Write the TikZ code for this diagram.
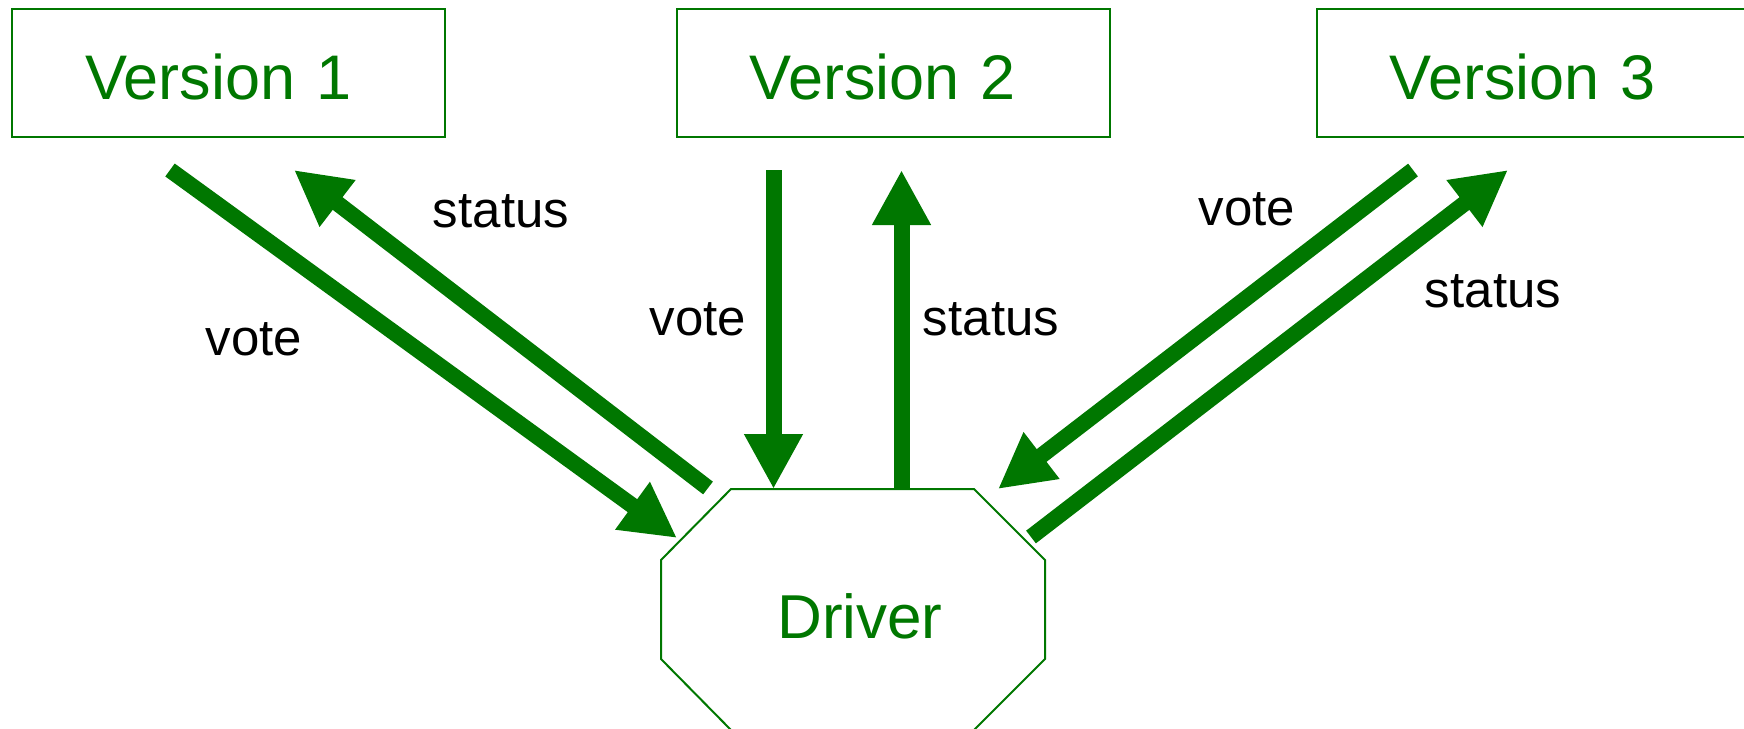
\documentclass[tikz,border=0pt]{standalone}
\usepackage{fontspec}
\setmainfont{Liberation Sans}
\usetikzlibrary{arrows.meta}
\definecolor{vgreen}{RGB}{0,119,0}
\begin{document}
\begin{tikzpicture}[x=1pt,y=-1pt,
  verbox/.style={draw=vgreen, line width=2pt, rectangle,
    minimum height=128pt, inner xsep=73pt, inner ysep=0pt,
    text width=287pt, align=left, text height=52pt, text depth=0pt,
    text=vgreen, font=\fontsize{63}{70}\selectfont},
  drvtext/.style={text=vgreen, font=\fontsize{62}{70}\selectfont, anchor=base, inner sep=0pt},
  lbl/.style={font=\fontsize{51}{60}\selectfont, anchor=base, inner sep=0pt},
  flow/.style={draw=vgreen, line width=16pt,
    -{Triangle[length=55pt,width=55pt]}}]
  \useasboundingbox (0,0) rectangle (1744,728);
  \clip (0,0) rectangle (1744,728);

  % the three versions
  \node[verbox] (v1) at (228.5,73) {Version 1};
  \node[verbox] (v2) at (893,73) {Version 2};
  \node[verbox] (v3) at (1533,73) {Version 3};

  % driver outline (stretched octagon)
  \draw[vgreen, line width=2pt]
    (731,489) -- (974,489) -- (1045,560) -- (1045,659) -- (974,730)
    -- (731,730) -- (661,659) -- (661,560) -- cycle;
  \node[drvtext] (drv) at (860,638) {Driver};

  % connector end points
  \coordinate (v1out) at (170,170);
  \coordinate (d1in)  at (677,538);
  \coordinate (d1out) at (708,488);
  \coordinate (v1in)  at (294,170);
  \coordinate (v2out) at (773.5,170);
  \coordinate (d2in)  at (773.5,489);
  \coordinate (d2out) at (901.5,489);
  \coordinate (v2in)  at (901.5,170);
  \coordinate (v3out) at (1413,170);
  \coordinate (d3in)  at (998,489);
  \coordinate (d3out) at (1031,537);
  \coordinate (v3in)  at (1508,170);

  % votes and status messages
  \draw[flow] (v1out) -- (d1in);
  \draw[flow] (d1out) -- (v1in);
  \draw[flow] (v2out) -- (d2in);
  \draw[flow] (d2out) -- (v2in);
  \draw[flow] (v3out) -- (d3in);
  \draw[flow] (d3out) -- (v3in);

  % message labels
  \node[lbl] (s1) at (501,227) {status};
  \node[lbl] (t1) at (254,355) {vote};
  \node[lbl] (t2) at (698,335) {vote};
  \node[lbl] (s2) at (991,335) {status};
  \node[lbl] (t3) at (1247,225) {vote};
  \node[lbl] (s3) at (1493,307) {status};
\end{tikzpicture}
\end{document}
